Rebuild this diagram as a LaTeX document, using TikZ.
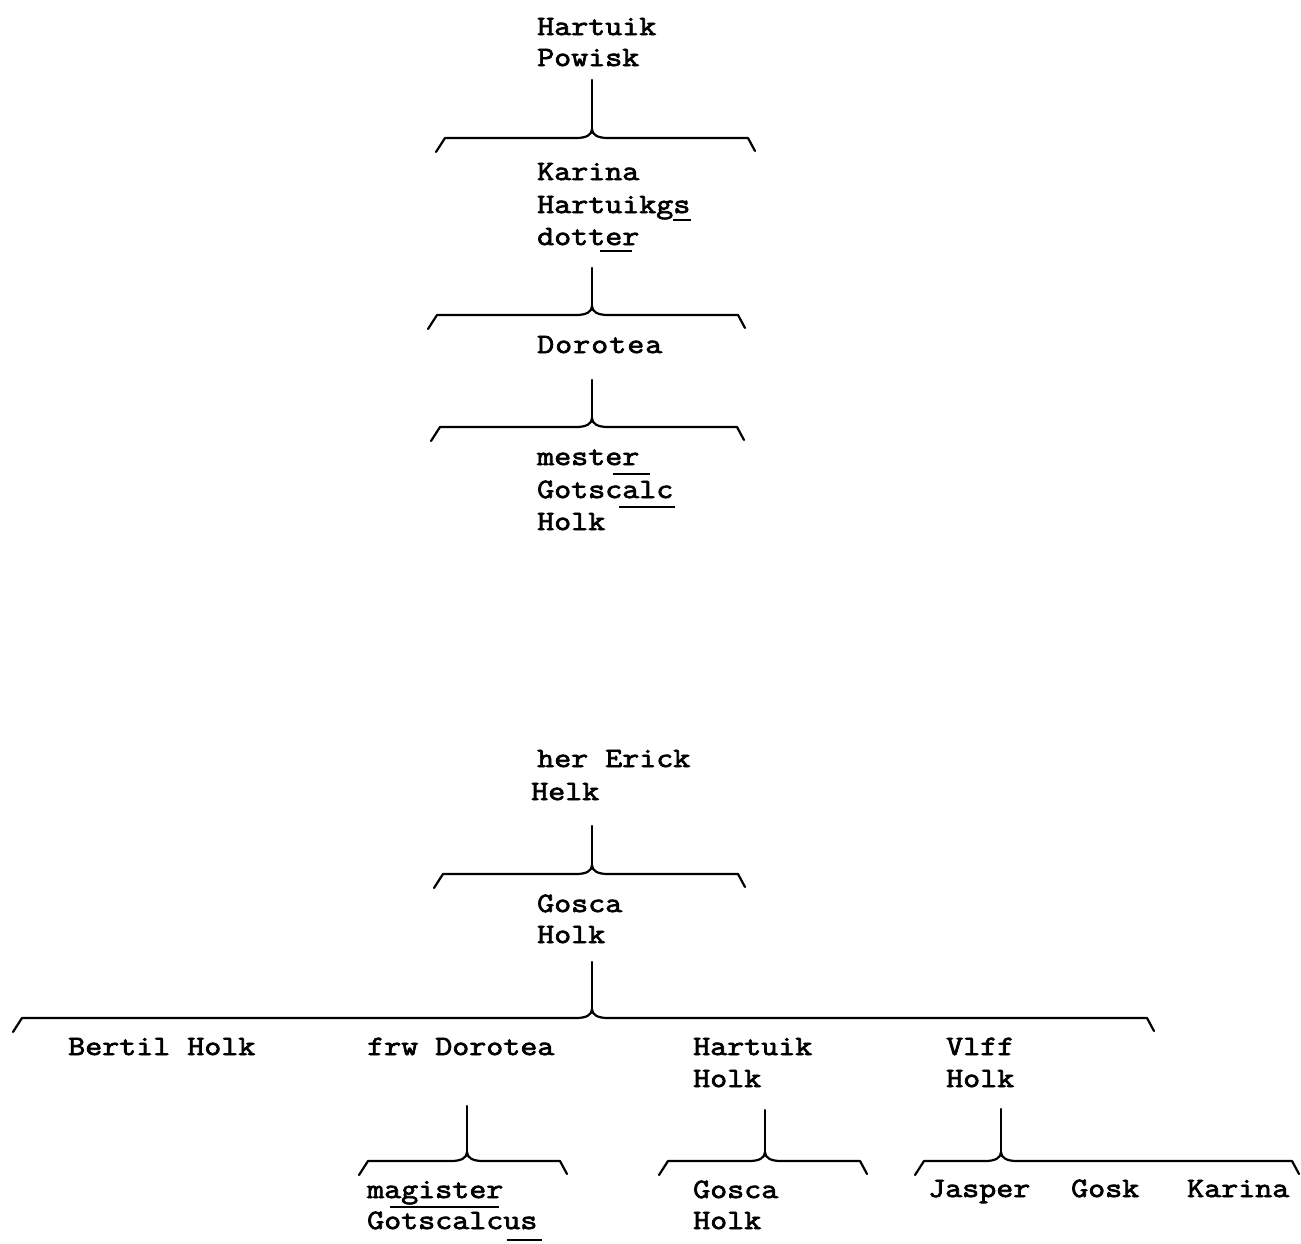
\documentclass[tikz,border=0pt]{standalone}
\usepackage{fontspec}
\newfontfamily\twfont{Latin Modern Mono}[FakeStretch=1.18,FakeBold=2.6]
\begin{document}
\begin{tikzpicture}[x=1pt,y=-1pt,
  txt/.style={anchor=base west,inner sep=0pt,font=\twfont\fontsize{28}{32}\selectfont},
  brline/.style={line width=2.2pt,line cap=round,line join=round},
  uline/.style={line width=2.2pt}]
\fill[white] (0,0) rectangle (1301,1243);
\useasboundingbox (0,0) rectangle (1301,1243);
% bracket: #1 left x, #2 right x, #3 cusp x, #4 horizontal y, #5 name, #6 stem top y
\newcommand\brk[6]{%
  \coordinate (#5-top) at (#3,#6);
  \coordinate (#5-cusp) at (#3,#4-9);
  \draw[brline] (#5-top) -- (#5-cusp);
  \draw[brline] (#1-9,#4+14) -- (#1,#4) -- (#3-16,#4)
     .. controls (#3-6,#4) and (#3,#4-3) .. (#5-cusp)
     .. controls (#3,#4-3) and (#3+6,#4) .. (#3+16,#4) -- (#2,#4) -- (#2+7,#4+13);}
% ---------- top tree ----------
\node[txt] (hp1) at (537,35) {Hartuik};
\node[txt] (hp2) at (537,66) {Powisk};
\brk{445}{748}{592}{138}{b1}{80}
\node[txt] (kh1) at (537,180) {Karina};
\node[txt] (kh2) at (537,213) {Hartuikgs};
\node[txt] (kh3) at (537,245) {dotter};
\draw[uline] (673,220) -- (691,220);
\draw[uline] (600,251) -- (632,251);
\brk{437}{738}{592}{315}{b2}{268}
\node[txt] (dor) at (537,353) {D\kern1pt o\kern1pt r\kern1pt o\kern1pt t\kern1pt e\kern1pt a};
\brk{440}{737}{592}{427}{b3}{380}
\node[txt] (mg1) at (537,465) {mester};
\node[txt] (mg2) at (537,498) {Gotscalc};
\node[txt] (mg3) at (537,530) {Holk};
\draw[uline] (613,474) -- (650,474);
\draw[uline] (619,507) -- (675,507);
% ---------- bottom tree ----------
\node[txt] (eh1) at (537,767) {her Erick};
\node[txt] (eh2) at (531,800) {Helk};
\brk{443}{738}{592}{874}{b4}{826}
\node[txt] (gh1) at (537,912) {Gosca};
\node[txt] (gh2) at (537,943) {Holk};
\brk{22}{1147}{592}{1018}{b5}{962}
\node[txt] (bh) at (68,1055) {Bertil Holk};
\node[txt] (fd) at (367,1055) {frw Dorotea};
\node[txt] (hh1) at (693,1055) {Hartuik};
\node[txt] (hh2) at (693,1087) {Holk};
\node[txt] (vh1) at (946,1055) {Vlff};
\node[txt] (vh2) at (946,1087) {Holk};
\brk{368}{560}{467}{1161}{b6}{1106}
\node[txt] (mgs1) at (367,1198) {magister};
\node[txt] (mgs2) at (367,1229) {Gotscalcus};
\draw[uline] (390,1207) -- (499,1207);
\draw[uline] (507,1240) -- (542,1240);
\brk{668}{860}{765}{1161}{b7}{1110}
\node[txt] (gh3) at (693,1198) {Gosca};
\node[txt] (gh4) at (693,1229) {Holk};
\brk{924}{1292}{1001}{1161}{b8}{1109}
\node[txt] (js) at (928,1197) {Jasper};
\node[txt] (gk) at (1071,1197) {Gosk};
\node[txt] (kr) at (1187,1197) {Karina};
\end{tikzpicture}
\end{document}
